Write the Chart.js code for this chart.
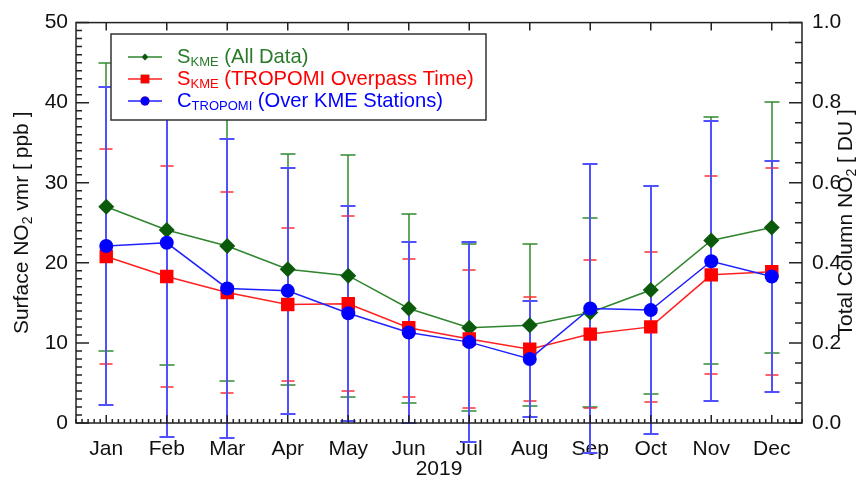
<!DOCTYPE html>
<html>
<head>
<meta charset="utf-8">
<script src="https://cdn.jsdelivr.net/npm/chart.js@4.4.0/dist/chart.umd.min.js"></script>
<style>
  body { margin: 0; background: #fff; }
  #wrap { width: 857px; height: 480px; }
</style>
</head>
<body>
<div id="wrap"><canvas id="no2-chart" width="857" height="480"></canvas></div>
<script>
// Valores (media y desviacion estandar por mes)
const months = ['Jan', 'Feb', 'Mar', 'Apr', 'May', 'Jun', 'Jul', 'Aug', 'Sep', 'Oct', 'Nov', 'Dec'];

const sKmeAll = [27.0, 24.1, 22.1, 19.2, 18.4, 14.3, 11.9, 12.2, 13.8, 16.6, 22.8, 24.4];
const sKmeAllStd = [18.0, 16.9, 16.8, 14.4, 15.1, 11.8, 10.4, 10.1, 11.8, 13.0, 15.4, 15.7];

const sKmeOverpass = [20.8, 18.3, 16.3, 14.8, 14.9, 11.9, 10.5, 9.2, 11.1, 12.0, 18.5, 18.9];
const sKmeOverpassStd = [13.4, 13.8, 12.6, 9.5, 10.9, 8.6, 8.6, 6.5, 9.2, 9.4, 12.4, 12.9];

const cTropomi = [22.1, 22.5, 16.8, 16.5, 13.7, 11.3, 10.1, 8.0, 14.3, 14.1, 20.2, 18.3];
const cTropomiStd = [19.9, 24.2, 18.7, 15.4, 13.4, 11.3, 12.5, 7.2, 18.0, 15.5, 17.5, 14.4];

const xTitle = '2019';
const leftTitle = [['Surface NO', false], ['2', true], [' vmr [ ppb ]', false]];
const rightTitle = [['Total Column NO', false], ['2', true], [' [ DU ]', false]];

// Leyenda: letra principal, subindice y resto del texto
const legendMain = ['S', 'S', 'C'];
const legendSub = ['KME', 'KME', 'TROPOMI'];
const legendRest = [' (All Data)', ' (TROPOMI Overpass Time)', ' (Over KME Stations)'];

const FONT = 'Liberation Sans, Arial, Helvetica, sans-serif';
const AXIS_COLOR = '#222';

function toPoints(values) {
    return values.map((v, i) => ({ x: i + 0.5, y: v }));
}

// Texto con subindices, dibujado centrado en (0,0) del contexto actual
function drawRichText(ctx, parts, size, color, align) {
    const subSize = Math.round(size * 0.65);
    let total = 0;
    const widths = parts.map(([t, sub]) => {
        ctx.font = (sub ? subSize : size) + 'px ' + FONT;
        const w = ctx.measureText(t).width;
        total += w;
        return w;
    });
    let x = align === 'left' ? 0 : -total / 2;
    ctx.fillStyle = color;
    ctx.textBaseline = 'middle';
    ctx.textAlign = 'left';
    parts.forEach(([t, sub], i) => {
        ctx.font = (sub ? subSize : size) + 'px ' + FONT;
        ctx.fillText(t, x, sub ? size * 0.28 : 0);
        x += widths[i];
    });
}

const errorBars = {
    id: 'errorBars',
    beforeDatasetsDraw(chart) {
        const ctx = chart.ctx;
        const xs = chart.scales.x;
        const ys = chart.scales.y;
        chart.data.datasets.forEach(ds => {
            ctx.save();
            ctx.strokeStyle = ds.errColor;
            ctx.lineWidth = ds.errWidth;
            ds.data.forEach((p, i) => {
                const x = Math.round(xs.getPixelForValue(p.x));
                const top = Math.round(ys.getPixelForValue(p.y + ds.err[i]));
                const bot = Math.round(ys.getPixelForValue(p.y - ds.err[i]));
                ctx.beginPath();
                ctx.moveTo(x, top);
                ctx.lineTo(x, bot);
                ctx.moveTo(x - ds.capHalf, top);
                ctx.lineTo(x + ds.capHalf, top);
                ctx.moveTo(x - ds.capHalf, bot);
                ctx.lineTo(x + ds.capHalf, bot);
                ctx.stroke();
            });
            ctx.restore();
        });
    }
};

// Marco, marcas hacia dentro, titulos verticales y leyenda
const frameAndLegend = {
    id: 'frameAndLegend',
    afterDraw(chart) {
        const ctx = chart.ctx;
        const a = chart.chartArea;
        const xs = chart.scales.x;
        const ys = chart.scales.y;
        const y2 = chart.scales.y2;

        ctx.save();
        ctx.strokeStyle = AXIS_COLOR;
        ctx.lineWidth = 1.5;
        ctx.beginPath();
        for (let v = 0; v <= 50; v++) {
            const y = ys.getPixelForValue(v);
            ctx.moveTo(a.left, y);
            ctx.lineTo(a.left + (v % 10 === 0 ? 13 : 6), y);
        }
        for (let k = 0; k <= 20; k++) {
            const y = y2.getPixelForValue(k * 0.05);
            ctx.moveTo(a.right, y);
            ctx.lineTo(a.right - (k % 4 === 0 ? 13 : 7), y);
        }
        for (let k = 0; k <= 120; k++) {
            const x = xs.getPixelForValue(k / 10);
            const major = k % 10 === 5;
            ctx.moveTo(x, a.bottom);
            ctx.lineTo(x, a.bottom - (major ? 8 : 4));
            if (major) {
                ctx.moveTo(x, a.top);
                ctx.lineTo(x, a.top + 8);
            }
        }
        ctx.stroke();
        ctx.strokeRect(a.left, a.top, a.right - a.left, a.bottom - a.top);

        const midY = (a.top + a.bottom) / 2;
        ctx.save();
        ctx.translate(22, midY);
        ctx.rotate(-Math.PI / 2);
        drawRichText(ctx, leftTitle, 21, '#111');
        ctx.restore();
        ctx.save();
        ctx.translate(846, midY);
        ctx.rotate(-Math.PI / 2);
        drawRichText(ctx, rightTitle, 21, '#111');
        ctx.restore();

        // Leyenda
        const box = { x: 111, y: 34, w: 375, h: 86 };
        ctx.fillStyle = '#fff';
        ctx.fillRect(box.x, box.y, box.w, box.h);
        ctx.strokeStyle = '#333';
        ctx.lineWidth = 1.5;
        ctx.strokeRect(box.x, box.y, box.w, box.h);
        const sizes = [3.5, 6, 4.5];
        chart.data.datasets.forEach((ds, i) => {
            const y = box.y + 23 + i * 22;
            ctx.strokeStyle = ds.borderColor;
            ctx.lineWidth = 1.5;
            ctx.beginPath();
            ctx.moveTo(128, y);
            ctx.lineTo(162, y);
            ctx.stroke();
            Chart.helpers.drawPoint(ctx, {
                pointStyle: ds.pointStyle, radius: sizes[i], rotation: 0, borderWidth: 0
            }, 145, y);
            ctx.fillStyle = ds.pointBackgroundColor;
            ctx.fill();
            ctx.save();
            ctx.translate(177, y);
            drawRichText(ctx, [[legendMain[i], false], [legendSub[i], true], [legendRest[i], false]],
                20.2, ds.textColor, 'left');
            ctx.restore();
        });
        ctx.restore();
    }
};

const ctx = document.getElementById('no2-chart').getContext('2d');

new Chart(ctx, {
    type: 'line',
    data: {
        datasets: [{
            label: 'S_KME (All Data)',
            data: toPoints(sKmeAll),
            err: sKmeAllStd,
            errColor: '#2f8a2f',
            errWidth: 1.5,
            capHalf: 7.5,
            textColor: '#2a7a2a',
            borderColor: '#2e852e',
            borderWidth: 1.5,
            pointStyle: 'rectRot',
            pointRadius: 8,
            pointBackgroundColor: '#0b5a0b',
            pointBorderColor: '#0b5a0b',
            pointBorderWidth: 0,
            order: 3
        }, {
            label: 'S_KME (TROPOMI Overpass Time)',
            data: toPoints(sKmeOverpass),
            err: sKmeOverpassStd,
            errColor: '#ff3030',
            errWidth: 1.5,
            capHalf: 6.5,
            textColor: '#ff0000',
            borderColor: '#ff2020',
            borderWidth: 1.5,
            pointStyle: 'rect',
            pointRadius: 9.5,
            pointBackgroundColor: '#ff0000',
            pointBorderColor: '#ff0000',
            pointBorderWidth: 0,
            order: 2
        }, {
            label: 'C_TROPOMI (Over KME Stations)',
            data: toPoints(cTropomi),
            err: cTropomiStd,
            errColor: '#5050ff',
            errWidth: 2,
            capHalf: 7.5,
            textColor: '#0000ff',
            borderColor: '#2020ff',
            borderWidth: 1.5,
            pointStyle: 'circle',
            pointRadius: 7,
            pointBackgroundColor: '#0000ff',
            pointBorderColor: '#0000ff',
            pointBorderWidth: 0,
            order: 1
        }]
    },
    options: {
        responsive: false,
        animation: false,
        devicePixelRatio: 1,
        layout: { padding: { top: 22, left: 0, right: 0, bottom: 0 } },
        scales: {
            x: {
                type: 'linear',
                min: 0,
                max: 12,
                afterBuildTicks: s => { s.ticks = months.map((m, i) => ({ value: i + 0.5 })); },
                afterFit: s => { s.height = 57; },
                grid: { display: false, drawTicks: false },
                border: { display: false },
                ticks: {
                    autoSkip: false,
                    maxRotation: 0,
                    padding: 14,
                    color: '#111',
                    font: { family: FONT, size: 21 },
                    callback: (v, i) => months[i]
                },
                title: {
                    display: true,
                    text: xTitle,
                    color: '#111',
                    padding: { top: 0, bottom: -2 },
                    font: { family: FONT, size: 21 }
                }
            },
            y: {
                position: 'left',
                min: 0,
                max: 50,
                afterFit: s => { s.width = 76; },
                grid: { display: false, drawTicks: false },
                border: { display: false },
                ticks: {
                    stepSize: 10,
                    padding: 8,
                    color: '#111',
                    font: { family: FONT, size: 21 }
                }
            },
            y2: {
                position: 'right',
                min: 0,
                max: 1,
                afterFit: s => { s.width = 55; },
                grid: { display: false, drawTicks: false },
                border: { display: false },
                ticks: {
                    stepSize: 0.2,
                    padding: 10,
                    color: '#111',
                    font: { family: FONT, size: 21 },
                    callback: v => v.toFixed(1)
                }
            }
        },
        plugins: {
            legend: { display: false },
            tooltip: { enabled: false }
        }
    },
    plugins: [errorBars, frameAndLegend]
});
</script>
</body>
</html>
